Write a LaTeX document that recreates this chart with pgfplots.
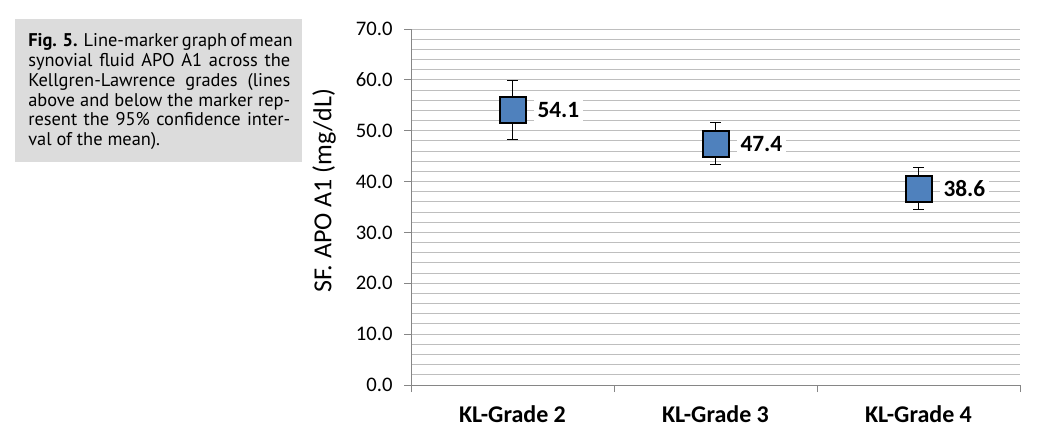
\documentclass[border=0pt]{standalone}
\usepackage{fontspec}
\setmainfont{Carlito}
\newfontfamily\capfont{PT Sans}
\usepackage{pgfplots}
\pgfplotsset{compat=1.18}
\definecolor{gridc}{RGB}{190,190,190}
\definecolor{spinec}{RGB}{134,134,134}
\definecolor{mkblue}{RGB}{79,129,189}
\definecolor{capbg}{RGB}{220,220,220}
\begin{document}
\begin{tikzpicture}
\useasboundingbox (0,0) rectangle (778.5pt,324.75pt);
\fill[capbg] (11.25pt,203.25pt) rectangle (226.5pt,310.5pt);
\begin{scope}[every node/.style={anchor=base west, inner sep=0pt, font=\capfont\fontsize{13.8}{15}\selectfont}]
\node at (21pt,289.7pt) {\makebox[196.5pt][s]{\textbf{Fig. 5.} Line-marker graph of mean}};
\node at (21pt,274.9pt) {\makebox[196.5pt][s]{synovial fluid APO A1 across the}};
\node at (21pt,260.0pt) {\makebox[196.5pt][s]{Kellgren-Lawrence grades (lines}};
\node at (21pt,245.2pt) {\makebox[196.5pt][s]{above and below the marker rep-}};
\node at (21pt,230.3pt) {\makebox[196.5pt][s]{resent the 95\% confidence inter-}};
\node at (21pt,215.5pt) {val of the mean).};
\end{scope}
\begin{axis}[
  at={(308.25pt,36pt)}, anchor=south west,
  scale only axis, width=456.75pt, height=267pt,
  xmin=0.5, xmax=3.5, ymin=0, ymax=70,
  clip=false,
  axis x line*=bottom, axis y line*=left,
  axis line style={spinec, line width=0.75pt},
  xtick={0.5,1.5,2.5,3.5}, xticklabels={},
  extra x ticks={1,2,3},
  extra x tick labels={KL-Grade 2,KL-Grade 3,KL-Grade 4},
  extra x tick style={major tick length=0pt, grid=none},
  xticklabel style={font=\bfseries\fontsize{18}{20}\selectfont, text=black, yshift=-12pt},
  ytick={0,10,20,30,40,50,60,70},
  yticklabels={0.0,10.0,20.0,30.0,40.0,50.0,60.0,70.0},
  yticklabel style={font=\fontsize{15.5}{17}\selectfont, text=black, xshift=-5pt},
  minor y tick num=4, ymajorgrids, yminorgrids,
  major grid style={gridc, line width=0.75pt},
  minor grid style={gridc, line width=0.75pt},
  tick align=outside, major tick length=5.25pt, minor tick length=0pt,
  tick style={spinec, line width=0.75pt},
  ylabel={SF. APO A1 (mg/dL)},
  ylabel style={at={(axis description cs:-0.1429,0.546)}, anchor=center, font=\fontsize{19.5}{22}\selectfont},
  point meta=explicit symbolic,
  nodes near coords,
  nodes near coords align=horizontal,
  every node near coord/.append style={anchor=west, xshift=15pt, fill=white, inner sep=3pt, text=black, font=\bfseries\fontsize{17.5}{19}\selectfont},
]
\addplot[only marks, mark=square*, mark size=9.75pt,
  mark options={fill=mkblue, draw=black, line width=1.5pt},
  error bars/.cd, y dir=both, y explicit,
  error bar style={black, line width=0.75pt},
  error mark options={black, line width=0.75pt, mark size=4pt, rotate=90}]
  table[x=x, y=y, y error plus=ep, y error minus=em, meta=lab] {
x y ep em lab
1 54.1 5.7 5.8 54.1
2 47.4 4.2 4.1 47.4
3 38.6 4.1 4.0 38.6
};
\end{axis}
\end{tikzpicture}
\end{document}
